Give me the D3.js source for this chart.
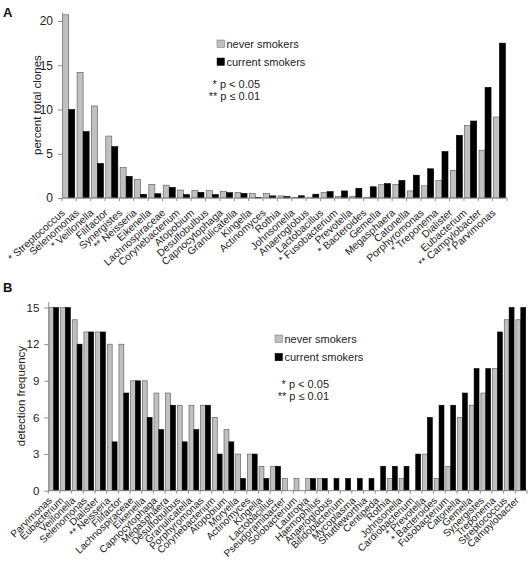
<!DOCTYPE html>
<html><head><meta charset="utf-8">
<script src="https://cdn.jsdelivr.net/npm/d3@7"></script>
<style>
html,body{margin:0;padding:0;background:#fff;}
svg{display:block;font-family:"Liberation Sans",Arial,sans-serif;}
</style></head>
<body><svg id="chart" width="528" height="561"></svg>
<script>
// ---------- Panel A data (percent total clones) ----------
const categoriesA = ["* Streptococcus","Selenomonas","* Veillonella","Filifactor","Synergistes","** Neisseria","Eikenella","Lachnospiraceae","Corynebacterium","Atopobium","Desulfobulbus","Capnocytophaga","Granulicatella","Kingella","Actinomyces","Rothia","Johnsonella","Anaeroglobus","Lactobacillus","* Fusobacterium","Prevotella","* Bacteroides","Gemella","Megasphaera","Catonella","Porphyromonas","* Treponema","Dialister","Eubacterium","** Campylobacter","* Parvimonas"];
const neverA   = [20.7,14.2,10.4,7.0,3.45,2.1,1.55,1.45,0.9,0.83,0.83,0.75,0.64,0.53,0.5,0.24,0.08,0.03,0.62,0.2,0.2,0.08,1.5,1.55,0.8,1.38,1.98,3.12,8.2,5.4,9.15];
const currentA = [10.0,7.5,3.9,5.8,2.45,0.42,0.48,1.2,0.38,0.64,0.38,0.6,0.53,0.08,0.24,0.16,0.25,0.43,0.72,0.8,1.1,1.27,1.62,1.98,2.58,3.3,5.25,7.08,8.7,12.5,17.5];
const ticksA = [0,5,10,15,20];

// ---------- Panel B data (detection frequency) ----------
const categoriesB = ["Parvimonas","Eubacterium","Veillonella","Selenomonas","Dialister","** Neisseria","Filifactor","Lachnospiraceae","Eikenella","Capnocytophaga","Megasphaera","Desulfobulbus","Granulicatella","Porphyromonas","Corynebacterium","Atopobium","Moryella","Actinomyces","Kingella","Lactobacillus","Pseudoramibacter","Solobacterium","Lautropia","Haemophilus","Anaeroglobus","Bifidobacterium","Mycoplasma","Shuttleworthia","Centipeda","Rothia","Johnsonella","Cardiobacterium","* Prevotella","* Bacteroides","Fusobacterium","Catonella","Gemella","Synergistes","Treponema","Streptococcus","Campylobacter"];
const neverB   = [15,15,14,13,13,12,12,9,9,8,8,7,7,7,6,5,3,3,2,2,1,1,1,1,0,0,0,0,0,1,1,0,3,1,2,6,7,8,10,14,14];
const currentB = [15,15,12,13,13,4,8,9,6,5,7,4,5,7,3,4,1,3,1,2,0,0,1,1,1,1,1,1,2,2,2,3,6,7,7,8,10,10,13,15,15];
const ticksB = [0,3,6,9,12,15];

const seriesNames = ["never smokers","current smokers"];
const seriesFill = {"never smokers":"#c0c0c0","current smokers":"#000000"};
const seriesStroke = {"never smokers":"#555555","current smokers":"#000000"};

const svg = d3.select("#chart");
svg.append("rect").attr("width",528).attr("height",561).attr("fill","#fff");

function drawPanel(o){
  const g = svg.append("g");
  const x0 = d3.scaleBand().domain(o.cats).range([o.left,o.right]).padding(0);
  const bw = x0.bandwidth();
  const x1 = d3.scaleBand().domain(seriesNames).range([0.05*bw,0.89*bw]).padding(0);
  const y = d3.scaleLinear().domain([0,o.ymax]).range([o.bottom,o.top]);

  const rows = o.cats.map((c,i)=>({cat:c, vals:[
    {s:"never smokers", v:o.never[i]},
    {s:"current smokers", v:o.current[i]}]}));

  const grp = g.selectAll("g.grp").data(rows).join("g")
    .attr("transform",d=>`translate(${x0(d.cat)},0)`);
  grp.selectAll("rect").data(d=>d.vals.filter(e=>e.v>0)).join("rect")
    .attr("x",d=>x1(d.s)).attr("width",x1.bandwidth())
    .attr("y",d=>y(d.v)).attr("height",d=>y(0)-y(d.v))
    .attr("fill",d=>seriesFill[d.s]).attr("stroke",d=>seriesStroke[d.s]).attr("stroke-width",0.6);

  // y axis
  const ya = g.append("g").attr("transform",`translate(${o.left},0)`)
    .call(d3.axisLeft(y).tickValues(o.ticks).tickSize(4).tickSizeOuter(0).tickPadding(5));
  ya.select(".domain").attr("stroke","#8c8c8c");
  ya.selectAll(".tick line").attr("stroke","#8c8c8c");
  ya.selectAll(".tick text").attr("font-size",o.tickFont).attr("fill","#222")
    .attr("font-family","Liberation Sans, Arial, sans-serif");

  // x axis line and boundary ticks
  g.append("line").attr("x1",o.left).attr("x2",o.right).attr("y1",y(0)).attr("y2",y(0))
    .attr("stroke","#8c8c8c");
  const bounds = o.cats.map(c=>x0(c)).concat([x0(o.cats[o.cats.length-1])+bw]);
  g.selectAll("line.xt").data(bounds).join("line").attr("class","xt")
    .attr("x1",d=>d).attr("x2",d=>d).attr("y1",y(0)).attr("y2",y(0)+3)
    .attr("stroke","#8c8c8c");

  // category labels
  g.selectAll("text.cl").data(o.cats).join("text").attr("class","cl")
    .attr("transform",d=>`translate(${x0(d)+bw/2+o.labelDx},${y(0)+o.labelDy}) rotate(${o.angle})`)
    .attr("text-anchor","end").attr("dy","0.35em")
    .attr("font-size",o.labelFont).attr("fill","#222").text(d=>d);

  // y label
  g.append("text").attr("transform",`translate(${o.ylabX},${(o.bottom+o.top)/2}) rotate(-90)`)
    .attr("text-anchor","middle").attr("font-size",o.ylabFont).attr("fill","#222").text(o.ylabel);

  // panel letter
  g.append("text").attr("x",o.letterX).attr("y",o.letterY).attr("font-size",13)
    .attr("font-weight","bold").attr("fill","#111").text(o.letter);

  // legend
  const lg = g.append("g").attr("transform",`translate(${o.legX},${o.legY})`);
  seriesNames.forEach((s,i)=>{
    lg.append("rect").attr("x",0).attr("y",i*o.legGap).attr("width",7.5).attr("height",7.5)
      .attr("fill",seriesFill[s]).attr("stroke",seriesStroke[s]).attr("stroke-width",0.4);
    lg.append("text").attr("x",9.5).attr("y",i*o.legGap+7.8).attr("font-size",11)
      .attr("fill","#222").text(s);
  });
  // p-value notes
  g.append("text").attr("x",o.pX).attr("y",o.pY).attr("text-anchor","end")
    .attr("font-size",11).attr("fill","#222").text("* p < 0.05");
  g.append("text").attr("x",o.pX).attr("y",o.pY+12).attr("text-anchor","end")
    .attr("font-size",11).attr("fill","#222").text("** p \u2264 0.01");
}

drawPanel({cats:categoriesA, never:neverA, current:currentA, ticks:ticksA,
  left:62, right:507, bottom:198, top:198-21*8.85, ymax:21,
  tickFont:12, labelFont:10.3, angle:-42, labelDx:-6, labelDy:13,
  ylabel:"percent total clones", ylabX:41, ylabFont:11.5,
  letter:"A", letterX:3, letterY:17,
  legX:217, legY:40, legGap:18, pX:260, pY:88});

drawPanel({cats:categoriesB, never:neverB, current:currentB, ticks:ticksB,
  left:48.3, right:527, bottom:490.7, top:490.7-15.5*12.21, ymax:15.5,
  tickFont:11.5, labelFont:10, angle:-44, labelDx:-4, labelDy:8,
  ylabel:"detection frequency", ylabX:25, ylabFont:11.5,
  letter:"B", letterX:3, letterY:292,
  legX:275, legY:335, legGap:18.3, pX:329, pY:388});
</script></body></html>
